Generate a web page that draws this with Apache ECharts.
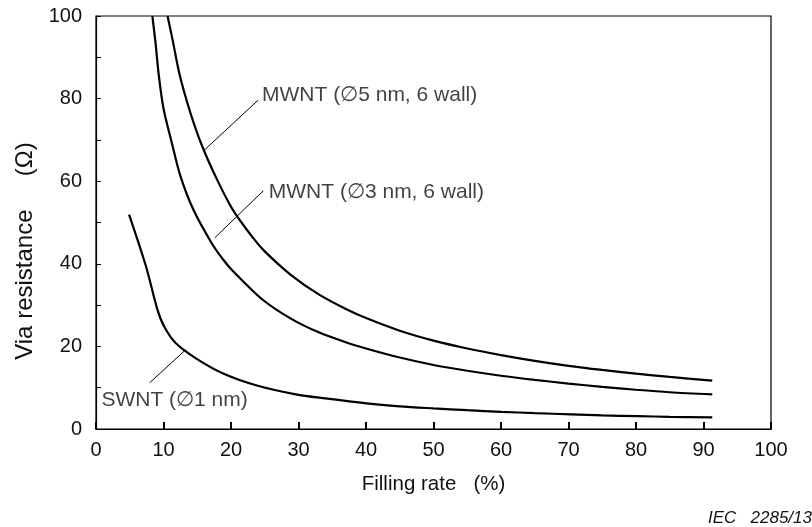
<!DOCTYPE html>
<html>
<head>
<meta charset="utf-8">
<script src="https://cdn.jsdelivr.net/npm/echarts@6/dist/echarts.min.js"></script>
<style>
html,body{margin:0;padding:0;background:#fff;}
#chart{width:812px;height:527px;}
</style>
</head>
<body>
<div id="chart"></div>
<script>
// Data
const xTicks = [0,10,20,30,40,50,60,70,80,90,100];
const yTickLabels = [0,20,40,60,80,100];

const mwnt5X = [10.6,11.4,12.4,13.9,15.6,17.9,20.3,23.3,25.0,28.8,33.0,37.1,40.1,45,50,55,60,65,70,75,80,85,91.3];
const mwnt5Y = [100,93.8,85.7,77.0,69.0,60.5,53.0,46.2,43.0,37.4,32.6,29.0,26.8,23.8,21.4,19.5,17.9,16.5,15.3,14.3,13.4,12.6,11.7];

const mwnt3X = [8.35,8.8,9.3,10.0,11.2,12.5,14.4,17.1,18.8,20.2,24.7,29,33,37,40,45,50,55,60,65,70,75,80,85,91.3];
const mwnt3Y = [100,93.8,85.7,77.6,69.5,61.3,53.2,45.1,41.1,38.4,31.3,26.6,23.4,21.0,19.5,17.3,15.5,14.1,12.9,11.9,11.0,10.2,9.5,8.9,8.4];

const swntX = [4.9,7.4,9.1,10.1,11.8,14.8,18.75,23.7,29.6,34.0,40.1,45,50,55,60.1,65,70.4,75,80.3,85,91.3];
const swntY = [51.9,39.4,28.9,24.8,20.8,17.1,13.5,10.6,8.4,7.4,6.2,5.5,5.0,4.55,4.15,3.85,3.55,3.3,3.1,2.95,2.8];

const labelNames = ['MWNT (\u22055 nm, 6 wall)','MWNT (\u22053 nm, 6 wall)','SWNT (\u22051 nm)'];
const labelX = [24.6,25.6,0.8];
const labelY = [80.8,57.3,7.0];

const leaderFrom = [[16.1,67.6],[17.6,46.3],[13.3,19.2]];
const leaderTo = [[24.0,79.6],[24.8,57.7],[7.95,11.2]];

const zip = (xs, ys) => xs.map((x, i) => [x, ys[i]]);
const FONT = 'Liberation Sans, Arial, sans-serif';
const TXT = '#111';

const curveSeries = [[mwnt5X, mwnt5Y], [mwnt3X, mwnt3Y], [swntX, swntY]].map(([xs, ys]) => ({
  type: 'line',
  data: zip(xs, ys),
  smooth: 0.3,
  showSymbol: false,
  symbol: 'none',
  lineStyle: {color: '#000', width: 2.2},
  clip: true,
  animation: false
}));

const leaderSeries = leaderFrom.map((p, i) => ({
  type: 'line',
  data: [p, leaderTo[i]],
  showSymbol: false,
  symbol: 'none',
  lineStyle: {color: '#000', width: 1},
  animation: false
}));

const labelSeries = {
  type: 'scatter',
  symbolSize: 0,
  data: labelNames.map((n, i) => ({name: n, value: [labelX[i], labelY[i]]})),
  label: {
    show: true,
    position: 'inside',
    align: 'left',
    verticalAlign: 'middle',
    formatter: p => p.name,
    fontFamily: FONT,
    fontSize: 21,
    color: TXT
  },
  animation: false
};

const chart = echarts.init(document.getElementById('chart'));
chart.setOption({
  backgroundColor: '#fff',
  animation: false,
  grid: {left: 96, right: 41, top: 16, bottom: 98, show: true, borderColor: '#000', borderWidth: 1.2},
  xAxis: {
    type: 'value', min: xTicks[0], max: xTicks[xTicks.length-1], interval: 10,
    axisLine: {show: true, lineStyle: {color: '#000', width: 1.2}},
    axisTick: {show: true, inside: true, length: 7, lineStyle: {color: '#000', width: 2}},
    splitLine: {show: false},
    axisLabel: {fontFamily: FONT, fontSize: 20, color: TXT, margin: 11},
    name: 'Filling rate   (%)', nameLocation: 'middle', nameGap: 45,
    nameTextStyle: {fontFamily: FONT, fontSize: 20.5, color: TXT}
  },
  yAxis: {
    type: 'value', min: 0, max: 100, interval: 10,
    axisLine: {show: true, lineStyle: {color: '#000', width: 1.2}},
    axisTick: {show: true, inside: true, length: 5, lineStyle: {color: '#000', width: 1}},
    splitLine: {show: false},
    axisLabel: {fontFamily: FONT, fontSize: 20, color: TXT, margin: 14,
      formatter: v => yTickLabels.includes(v) ? String(v) : ''}
  },
  graphic: [{
    type: 'text', x: 25, y: 251, rotation: Math.PI / 2,
    style: {text: 'Via resistance     (\u03A9)', font: '24px ' + FONT, fill: TXT,
      align: 'center', verticalAlign: 'middle'}
  }, {
    type: 'text', right: 0, top: 510,
    style: {text: 'IEC   2285/13', font: 'italic 17px ' + FONT, fill: TXT}
  }],
  series: curveSeries.concat(leaderSeries, [labelSeries])
});
</script>
</body>
</html>
